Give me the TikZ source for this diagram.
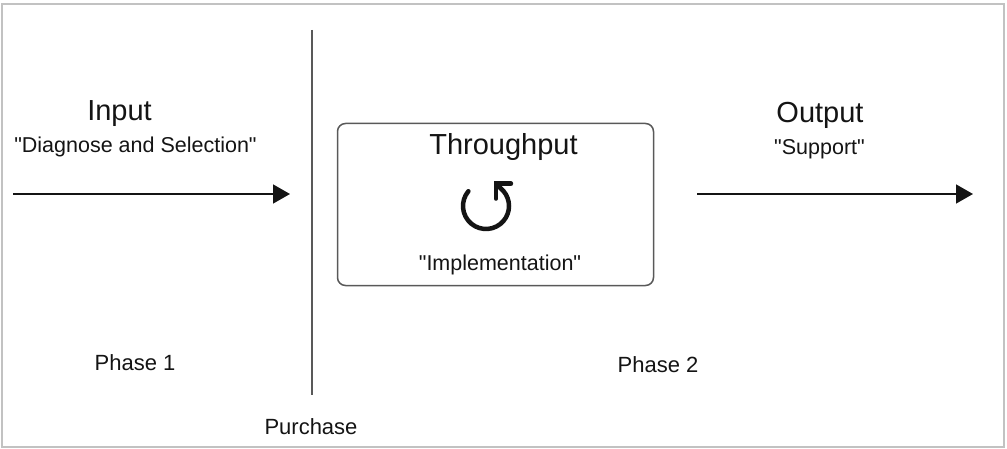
\documentclass[tikz,border=0pt]{standalone}
\usepackage{fontspec}
\setmainfont{Liberation Sans}
\usetikzlibrary{arrows.meta,positioning}
\definecolor{FrameClr}{rgb}{0.76,0.76,0.76}
\definecolor{InkClr}{rgb}{0.08,0.08,0.08}
\definecolor{BoxClr}{rgb}{0.35,0.35,0.35}
\newcommand{\qt}[1]{\textquotedbl#1\textquotedbl}

\begin{document}
\begin{tikzpicture}[x=1pt,y=-1pt,
  head/.style={anchor=base,inner sep=0pt,text=InkClr,font=\fontsize{29}{34}\selectfont},
  sub/.style={anchor=base,inner sep=0pt,text=InkClr,font=\fontsize{21.5}{26}\selectfont},
  phase/.style={anchor=base,inner sep=0pt,text=InkClr,font=\fontsize{22}{26}\selectfont},
  flow/.style={line width=1.6pt,draw=InkClr,-{Triangle[length=17pt,width=19pt]}}]
\useasboundingbox (0,0) rectangle (1007,449);
\draw[FrameClr,line width=2.5pt] (2,4) rectangle (1004,447);

% phase divider
\coordinate (divT) at (312,30);
\coordinate (divB) at (312,395);
\draw[BoxClr,line width=1.3pt] (divT) -- (divB);

% input side
\node[head] (inT) at (119.5,121) {Input};
\node[sub] (inS) at (135.5,153) {\qt{Diagnose and Selection}};
\coordinate (inA) at (13,194);
\coordinate (inB) at (290,194);
\draw[flow] (inA) -- (inB);

% throughput box
\node[draw=BoxClr,line width=1.5pt,rounded corners=8pt,
      minimum width=316pt,minimum height=162pt] (thru) at (495.5,204.5) {};
\node[head] (thruT) at (503.5,155) {Throughput};
\node[sub] (thruS) at (500,271) {\qt{Implementation}};
\coordinate (cyc) at (486,206);
\draw[InkClr,line width=4.5pt,line cap=round,
      -{Straight Barb[angle=90:15pt,line cap=round,line join=miter]}]
  ([shift={(140:23pt)}]cyc) arc[start angle=140,end angle=400,radius=23pt]
  -- ++(135:14pt);

% output side
\node[head] (outT) at (820,123) {Output};
\node[sub] (outS) at (819.5,155) {\qt{Support}};
\coordinate (outA) at (697,194);
\coordinate (outB) at (973,194);
\draw[flow] (outA) -- (outB);

% phases
\node[phase] (ph1) at (135,370) {Phase 1};
\node[phase] (ph2) at (658,372) {Phase 2};
\node[phase] (buy) at (311,434) {Purchase};
\end{tikzpicture}
\end{document}
